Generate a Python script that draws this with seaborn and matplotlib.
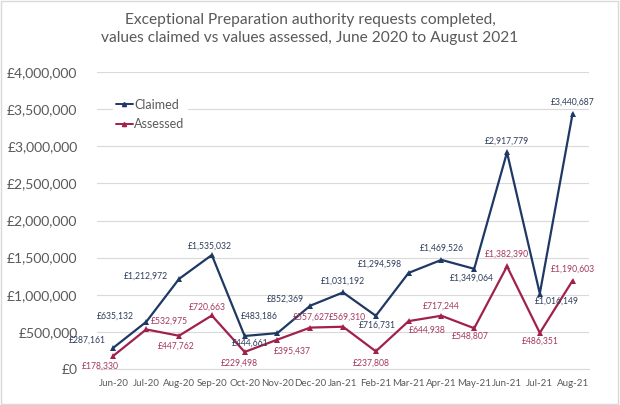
import pandas as pd
import numpy as np
import matplotlib
matplotlib.use('Agg')
import matplotlib.pyplot as plt
import seaborn as sns
from matplotlib.lines import Line2D
from matplotlib.patches import Rectangle

# Data
months = ['Jun-20', 'Jul-20', 'Aug-20', 'Sep-20', 'Oct-20', 'Nov-20', 'Dec-20',
          'Jan-21', 'Feb-21', 'Mar-21', 'Apr-21', 'May-21', 'Jun-21', 'Jul-21', 'Aug-21']
claimed = [287161, 635132, 1212972, 1535032, 444661, 483186, 852369,
           1031192, 716731, 1294598, 1469526, 1349064, 2917779, 1016149, 3440687]
assessed = [178330, 532975, 447762, 720663, 229498, 395437, 557627,
            569310, 237808, 644938, 717244, 548807, 1382390, 486351, 1190603]

# label offsets in pixels (dx, dy) relative to each point
claimed_off = [(-26, 7), (-31, 6), (-33, 3), (-2, 9), (6, -7), (-18, 17), (-25, 7),
               (0, 11), (2, -9), (-29, 9), (0, 12), (-2, -9), (0, 11), (17, -8), (0, 11)]
assessed_off = [(-13, -10), (23, 8), (-3, -10), (-4, 8), (-5, -11), (15, -12), (1, 10),
                (4, 10), (-4, -12), (19, -9), (0, 10), (-4, -8), (0, 12), (0, -8), (0, 11)]

sns.set_style("white")
plt.rcParams['font.family'] = ['Lato', 'DejaVu Sans']

navy = '#1F3864'
maroon = '#A0214C'
grey_txt = '#595959'

df = pd.DataFrame({
    'Month': months * 2,
    'Value': claimed + assessed,
    'Series': ['Claimed'] * len(months) + ['Assessed'] * len(months),
})

fig = plt.figure(figsize=(6.2, 4.05), dpi=100)
ax = fig.add_axes([0.1565, 0.0889, 0.7935, 0.7333])

sns.lineplot(data=df, x='Month', y='Value', hue='Series', style='Series',
             palette={'Claimed': navy, 'Assessed': maroon},
             markers={'Claimed': '^', 'Assessed': '^'}, dashes=False,
             markersize=4, markeredgewidth=0, linewidth=1.6, sort=False,
             legend=False, ax=ax)

ax.set_xlim(-0.5, len(months) - 0.5)
ax.set_ylim(0, 4000000)
ax.set_yticks(np.arange(0, 4000001, 500000))
ax.set_yticklabels(['£0' if v == 0 else f'£{v:,.0f}' for v in np.arange(0, 4000001, 500000)],
                   fontsize=10, color=grey_txt)
ax.yaxis.grid(True, color='#D9D9D9', linewidth=0.8)
ax.xaxis.grid(False)
ax.set_xticks(range(len(months)))
ax.set_xticklabels(months, fontsize=7, color=grey_txt)
ax.set_xticks(np.arange(-0.5, len(months)), minor=True)
ax.tick_params(axis='x', which='major', length=0, pad=7)
ax.tick_params(axis='x', which='minor', length=4, color='#D9D9D9', direction='out')
ax.tick_params(axis='y', length=0, pad=14)
ax.set_xlabel('')
ax.set_ylabel('')
for s in ['top', 'right', 'left']:
    ax.spines[s].set_visible(False)
ax.spines['bottom'].set_color('#D9D9D9')
ax.spines['bottom'].set_zorder(0)

# data labels
for i, v in enumerate(claimed):
    dx, dy = claimed_off[i]
    ax.annotate(f'£{v:,}', (i, v), xytext=(dx, dy), textcoords='offset pixels',
                ha='center', va='center', fontsize=6.2, color='#2E3D5C')
for i, v in enumerate(assessed):
    dx, dy = assessed_off[i]
    ax.annotate(f'£{v:,}', (i, v), xytext=(dx, dy), textcoords='offset pixels',
                ha='center', va='center', fontsize=6.2, color='#A53862')

# legend
handles = [Line2D([0], [0], color=navy, marker='^', markersize=3, linewidth=1.4),
           Line2D([0], [0], color=maroon, marker='^', markersize=3, linewidth=1.4)]
leg = ax.legend(handles, ['Claimed', 'Assessed'], loc='upper left',
                bbox_to_anchor=(0.02, 0.94), frameon=True, framealpha=1,
                edgecolor='white', fontsize=9, handlelength=1.4, handletextpad=0.1,
                labelspacing=0.6, borderpad=0.2)
for t in leg.get_texts():
    t.set_color(grey_txt)

fig.text(0.5, 0.968, 'Exceptional Preparation authority requests completed,\n'
         'values claimed vs values assessed, June 2020 to August 2021',
         ha='center', va='top', fontsize=11.2, color=grey_txt, linespacing=1.35)

fig.patches.append(Rectangle((0.002, 0.003), 0.995, 0.994, transform=fig.transFigure,
                             fill=False, edgecolor='#D9D9D9', linewidth=1))

fig.savefig('out.png', dpi=100)
